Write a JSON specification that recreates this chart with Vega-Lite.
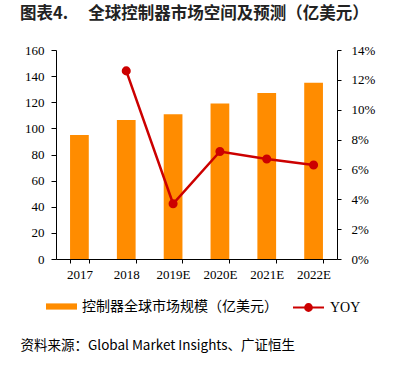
{
  "$schema": "https://vega.github.io/schema/vega-lite/v6.json",
  "width": 281,
  "height": 209,
  "autosize": {"type": "none"},
  "padding": {"left": 56, "top": 50, "right": 56, "bottom": 113},
  "background": "white",
  "title": {
    "text": "图表4.\u3000\u00a0全球控制器市场空间及预测（亿美元）",
    "anchor": "start",
    "frame": "group",
    "dx": -36,
    "offset": 22,
    "fontSize": 16.5,
    "font": "Noto Sans CJK SC",
    "fontWeight": "bold",
    "color": "#222222"
  },
  "data": {
    "values": [
      {"year": "2017", "size": 95, "yoy": null},
      {"year": "2018", "size": 106.5, "yoy": 0.126},
      {"year": "2019E", "size": 110.8, "yoy": 0.037},
      {"year": "2020E", "size": 119, "yoy": 0.072},
      {"year": "2021E", "size": 127, "yoy": 0.067},
      {"year": "2022E", "size": 135, "yoy": 0.063}
    ]
  },
  "config": {
    "view": {"stroke": null},
    "axis": {
      "labelFont": "Liberation Serif",
      "labelFontSize": 13,
      "labelColor": "#000000",
      "domainColor": "#000000",
      "tickColor": "#000000",
      "grid": false
    },
    "legend": {
      "labelFont": "Noto Sans CJK SC",
      "labelFontSize": 14,
      "labelColor": "#000000",
      "labelLimit": 0,
      "padding": 0
    }
  },
  "encoding": {
    "x": {
      "field": "year",
      "type": "nominal",
      "sort": null,
      "scale": {"paddingInner": 0.6, "paddingOuter": 0.3},
      "axis": {
        "labelAngle": 0,
        "tickBand": "extent",
        "tickSize": 4,
        "labelPadding": 5,
        "title": "资料来源：Global Market Insights、广证恒生",
        "titleX": -36,
        "titleY": 86,
        "titleAlign": "left",
        "titleAnchor": "start",
        "titleBaseline": "middle",
        "titleFont": "Noto Sans CJK SC",
        "titleFontSize": 13.5,
        "titleFontWeight": "normal",
        "titleColor": "#000000"
      }
    }
  },
  "layer": [
    {
      "mark": {"type": "bar"},
      "encoding": {
        "y": {
          "field": "size",
          "type": "quantitative",
          "scale": {"domain": [0, 160]},
          "axis": {
            "values": [0, 20, 40, 60, 80, 100, 120, 140, 160],
            "title": null,
            "tickSize": 5,
            "labelPadding": 7
          }
        },
        "fill": {
          "datum": "控制器全球市场规模（亿美元）",
          "scale": {"range": ["#FF8C00"]},
          "legend": {
            "title": null,
            "orient": "none",
            "legendX": -10,
            "legendY": 241,
            "symbolType": "M-1,-0.2H1V0.2H-1Z",
            "symbolSize": 961,
            "symbolStrokeWidth": 0,
            "labelOffset": 5
          }
        }
      }
    },
    {
      "mark": {
        "type": "line",
        "strokeWidth": 2.5,
        "point": {"filled": true, "size": 50, "color": "#CC0000"}
      },
      "encoding": {
        "y": {
          "field": "yoy",
          "type": "quantitative",
          "scale": {"domain": [0, 0.14]},
          "axis": {
            "orient": "right",
            "format": ".0%",
            "values": [0, 0.02, 0.04, 0.06, 0.08, 0.1, 0.12, 0.14],
            "title": null,
            "tickSize": 4,
            "labelPadding": 10
          }
        },
        "stroke": {
          "datum": "YOY",
          "scale": {"range": ["#CC0000"]},
          "legend": {
            "title": null,
            "orient": "none",
            "legendX": 236,
            "legendY": 241,
            "symbolType": "M-1,0H1M0.22,0A0.22,0.22 0 1 1 -0.22,0A0.22,0.22 0 1 1 0.22,0",
            "symbolSize": 961,
            "symbolStrokeWidth": 2,
            "symbolFillColor": "#CC0000",
            "labelOffset": 5,
            "labelFont": "Liberation Serif",
            "labelFontSize": 14,
            "encode": {"symbols": {"update": {"fill": {"value": "#CC0000"}}}}
          }
        }
      }
    }
  ],
  "resolve": {"scale": {"y": "independent"}}
}
